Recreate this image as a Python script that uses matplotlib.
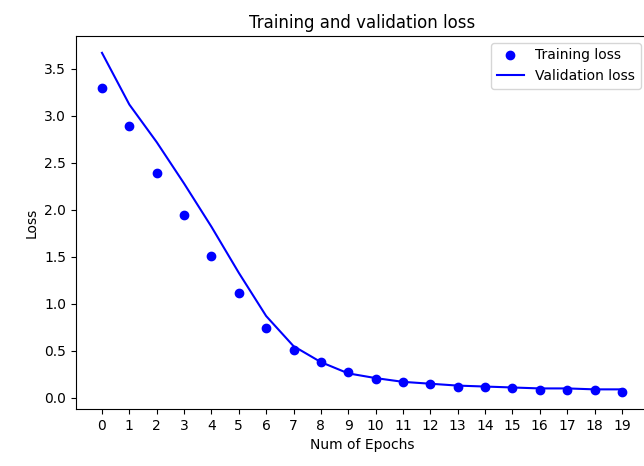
import numpy as np
import matplotlib
matplotlib.use('Agg')
import matplotlib.pyplot as plt

epochs = list(range(20))
train_loss = [3.30, 2.89, 2.39, 1.95, 1.51, 1.11, 0.74, 0.51, 0.38, 0.28,
              0.20, 0.17, 0.15, 0.12, 0.11, 0.10, 0.08, 0.08, 0.08, 0.06]
val_loss = [3.67, 3.12, 2.72, 2.28, 1.82, 1.33, 0.87, 0.55, 0.38, 0.26,
            0.21, 0.17, 0.15, 0.13, 0.12, 0.11, 0.10, 0.10, 0.09, 0.09]

fig = plt.figure(figsize=(6.44, 4.66), dpi=100)
# the original screenshot cuts off the right edge of the axes
ax = fig.add_axes([0.118, 0.122, 0.888, 0.801])

ax.plot(epochs, train_loss, 'bo', label='Training loss')
ax.plot(epochs, val_loss, 'b', label='Validation loss')
ax.set_title('Training and validation loss')
ax.set_xlabel('Num of Epochs')
ax.set_ylabel('Loss')
ax.set_xticks(epochs)
ax.legend()

fig.savefig('out.png')
